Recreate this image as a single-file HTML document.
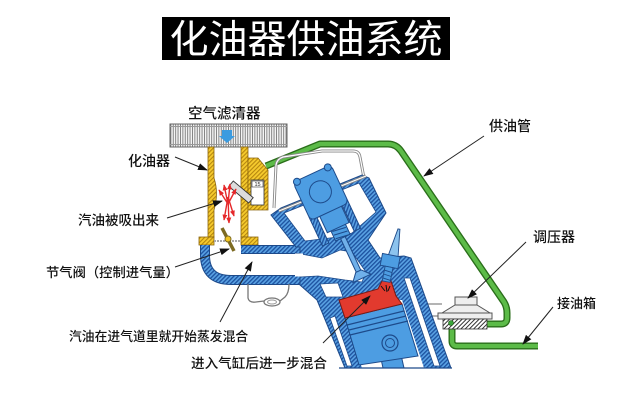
<!DOCTYPE html>
<html><head><meta charset="utf-8">
<style>
html,body{margin:0;padding:0;background:#fff;}
svg{display:block;}
text{font-family:"Liberation Sans","Noto Sans CJK SC",sans-serif;}
.lb{font-weight:500;fill:#111;}
</style></head><body>
<svg width="630" height="402" viewBox="0 0 630 402" xmlns="http://www.w3.org/2000/svg">
<defs>
<pattern id="hb" width="3" height="3" patternUnits="userSpaceOnUse" patternTransform="rotate(45)">
 <rect width="3" height="3" fill="#5aa2e3"/><rect width="1.35" height="3" fill="#1d52a0"/>
</pattern>
<pattern id="hy" width="3" height="3" patternUnits="userSpaceOnUse" patternTransform="rotate(45)">
 <rect width="3" height="3" fill="#f6cb2e"/><rect width="1.1" height="3" fill="#b5860f"/>
</pattern>
<pattern id="hk" width="3" height="3" patternUnits="userSpaceOnUse" patternTransform="rotate(45)">
 <rect width="3" height="3" fill="#fff"/><rect width="1" height="3" fill="#333"/>
</pattern>
<pattern id="filt" width="2.4" height="10" patternUnits="userSpaceOnUse">
 <rect width="2.4" height="10" fill="#f4f4f4"/><rect width="0.9" height="10" fill="#7a7a7a"/>
</pattern>
<marker id="ah" viewBox="0 0 10 10" refX="9" refY="5" markerWidth="10" markerHeight="7" markerUnits="userSpaceOnUse" orient="auto" preserveAspectRatio="none">
 <path d="M0,0 L10,5 L0,10 Z" fill="#111"/>
</marker>
<marker id="ar" viewBox="0 0 10 10" refX="9" refY="5" markerWidth="6" markerHeight="5" markerUnits="userSpaceOnUse" orient="auto" preserveAspectRatio="none">
 <path d="M0,0 L10,5 L0,10 Z" fill="#e5282a"/>
</marker>
</defs>

<rect width="630" height="402" fill="#fff"/>

<!-- Title -->
<rect x="162" y="17" width="288" height="43" fill="#000"/>
<text x="306" y="53" font-size="39" fill="#fff" text-anchor="middle">化油器供油系统</text>

<!-- Air filter -->
<rect x="170" y="124" width="117" height="23" fill="url(#filt)" stroke="#666" stroke-width="1"/>
<line x1="170" y1="126.5" x2="287" y2="126.5" stroke="#999" stroke-width="1"/>
<line x1="170" y1="144.5" x2="287" y2="144.5" stroke="#999" stroke-width="1"/>
<polygon points="222,130 232,130 232,136 235,136 227,143 219,136 222,136" fill="#3a9be0"/>

<!-- Green fuel pipe -->
<path d="M266,166 L320,144 L388,144 Q396,144 401,151 L504,302 Q507,307 507,313 L507,318 Q507,324 501,324 L486,324" fill="none" stroke="#2a6e1a" stroke-width="7" stroke-linejoin="round"/>
<path d="M266,166 L320,144 L388,144 Q396,144 401,151 L504,302 Q507,307 507,313 L507,318 Q507,324 501,324 L486,324" fill="none" stroke="#5cbb48" stroke-width="4.3" stroke-linejoin="round"/>
<path d="M452,326 L452,341 Q452,346 457,346 L538,346" fill="none" stroke="#2a6e1a" stroke-width="7"/>
<path d="M452,326 L452,341 Q452,346 457,346 L538,346" fill="none" stroke="#5cbb48" stroke-width="4.3"/>

<!-- Carburetor -->
<path d="M208,147 L214,147 L214,178 Q219,193 214,210 L214,237 L208,237 Z" fill="url(#hy)" stroke="#8a6510" stroke-width="0.8"/>
<path d="M241,147 L248,147 L248,237 L241,237 Z" fill="url(#hy)" stroke="#8a6510" stroke-width="0.8"/>
<path d="M248,158 L258,158 L268,170 L268,210 L248,210 Z" fill="url(#hy)" stroke="#8a6510" stroke-width="0.8"/>
<rect x="251" y="180" width="13" height="25" fill="#fff" stroke="#333" stroke-width="0.8"/>
<rect x="252" y="181" width="11" height="6" fill="#fff" stroke="#333" stroke-width="0.6"/>
<text x="257.5" y="186" font-size="5.5" text-anchor="middle" fill="#222">15</text>
<rect x="228" y="188.5" width="26" height="7" transform="rotate(40 241 192)" fill="#dcdcdc" stroke="#333" stroke-width="0.9"/>
<!-- red fuel arrows -->
<g stroke="#e5282a" stroke-width="1.4" fill="none">
 <line x1="228" y1="204" x2="219" y2="190" marker-end="url(#ar)"/>
 <line x1="228" y1="204" x2="224" y2="185" marker-end="url(#ar)"/>
 <line x1="228" y1="204" x2="230" y2="184" marker-end="url(#ar)"/>
 <line x1="228" y1="204" x2="236" y2="189" marker-end="url(#ar)"/>
 <line x1="228" y1="197" x2="224" y2="220" marker-end="url(#ar)"/>
 <line x1="228" y1="197" x2="229" y2="223" marker-end="url(#ar)"/>
 <line x1="228" y1="197" x2="234" y2="216" marker-end="url(#ar)"/>
</g>
<!-- flanges -->
<rect x="199" y="237" width="15" height="8" fill="url(#hy)" stroke="#8a6510" stroke-width="0.8"/>
<rect x="241" y="237" width="17" height="8" fill="url(#hy)" stroke="#8a6510" stroke-width="0.8"/>
<line x1="214" y1="241" x2="241" y2="241" stroke="#aaa" stroke-width="2" stroke-dasharray="2,1"/>

<!-- Cover (gray) -->
<path d="M274,208 L276,165 Q277,159 283,157 L322,151 L353,151 Q359,151 360,157 L364,178" fill="none" stroke="#888" stroke-width="3"/>
<path d="M274,208 L276,165 Q277,159 283,157 L322,151 L353,151 Q359,151 360,157 L364,178" fill="none" stroke="#fff" stroke-width="1.2"/>

<!-- Intake pipe -->
<path d="M205,245 L205,255 Q205,280 231,280 L303,280" fill="none" stroke="#1d4a8a" stroke-width="10"/>
<path d="M205,245 L205,255 Q205,280 231,280 L303,280" fill="none" stroke="url(#hb)" stroke-width="8"/>
<path d="M241,249.5 L302,249.5" fill="none" stroke="#1d4a8a" stroke-width="9"/>
<path d="M241,249.5 L302,249.5" fill="none" stroke="url(#hb)" stroke-width="7"/>

<!-- Wire under pipe -->
<path d="M248,284 L248,298 Q249,303 256,302 L264,301" fill="none" stroke="#777" stroke-width="1.3"/>
<ellipse cx="272" cy="302" rx="8" ry="4" fill="none" stroke="#777" stroke-width="1.3"/>
<ellipse cx="272" cy="302" rx="4.5" ry="2" fill="none" stroke="#999" stroke-width="1"/>
<path d="M280,301 L285,297 Q289,293 289,284" fill="none" stroke="#777" stroke-width="1.3"/>

<!-- Regulator bracket -->
<line x1="420" y1="304" x2="442" y2="304" stroke="#888" stroke-width="1.2"/>
<line x1="424" y1="316" x2="442" y2="316" stroke="#888" stroke-width="1.2"/>

<!-- Engine head/block -->
<polygon points="296,247 271,215 281,208 362,175 369,178 386,213 368,240 380,258 404,256 411,258 451,368 345,368 317,300 300,285 300,247" fill="url(#hb)" stroke="#1d4a8a" stroke-width="1"/>
<!-- housing interior -->
<polygon points="284,213 359,183 376,212 352,233 338,237 305,241" fill="#fff" stroke="#1d4a8a" stroke-width="0.8"/>
<!-- gray bar -->
<line x1="279" y1="211" x2="366" y2="176" stroke="#888" stroke-width="3"/>
<line x1="279" y1="211" x2="366" y2="176" stroke="#fff" stroke-width="1.1"/>
<!-- intake port -->
<polygon points="296,253 322,258 340,250 352,252 366,272 362,282 345,280 318,276 300,277" fill="#fff" stroke="#1d4a8a" stroke-width="0.8"/>
<rect x="295" y="253.5" width="8" height="23" fill="#fff"/>
<polygon points="320,284 338,283 343,297 326,297" fill="#fff" stroke="#1d4a8a" stroke-width="0.8"/>
<!-- slots -->
<polygon points="330,318 335,316 352,366 347,366" fill="#fff" stroke="#1d4a8a" stroke-width="0.8"/>
<polygon points="404,278 410,278 440,366 434,366" fill="#fff" stroke="#1d4a8a" stroke-width="0.8"/>
<!-- bore -->
<polygon points="339,300 402,300 424,368 362,368" fill="#fff"/>
<!-- rod -->
<polygon points="379,350 399,346 404,368 383,368" fill="#4d9de2" stroke="#1d4a8a" stroke-width="1"/>
<!-- piston -->
<polygon points="345,318 402,304 418,356 359,365" fill="#4d9de2" stroke="#1d4a8a" stroke-width="1"/>
<g stroke="#1d4a8a" stroke-width="1.2">
 <line x1="347" y1="325" x2="404" y2="311"/>
 <line x1="349" y1="330" x2="406" y2="316"/>
 <line x1="350" y1="335" x2="408" y2="321"/>
</g>
<circle cx="390" cy="343" r="8" fill="#4d9de2" stroke="#1d4a8a" stroke-width="1.2"/>
<circle cx="390" cy="343" r="4.5" fill="none" stroke="#1d4a8a" stroke-width="1"/>
<!-- red chamber -->
<polygon points="339,300 378,289 383,279 391,281 396,296 402,304 345,318" fill="#e23a2e" stroke="#7a1a14" stroke-width="1"/>
<line x1="339" y1="368" x2="452" y2="368" stroke="#1d4a8a" stroke-width="1.2"/>

<!-- Rocker / valve assembly -->
<g transform="translate(323,195) rotate(-25)" stroke="#1d4a8a" stroke-width="1">
 <rect x="-22" y="14" width="7" height="32" fill="url(#hb)"/>
 <rect x="13" y="14" width="7" height="32" fill="url(#hb)"/>
 <rect x="-2.5" y="44" width="5" height="44" fill="#6fb0ea"/>
 <polygon points="-3,84 3,84 10,92 -10,92" fill="#6fb0ea"/>
 <rect x="-8" y="34" width="16" height="13" fill="#4d9de2"/>
 <path d="M-7,37 L7,39 M-7,41 L7,43 M-7,45 L7,47" stroke="#1d4a8a" fill="none"/>
 <rect x="-12" y="14" width="24" height="22" fill="#4d9de2"/>
 <rect x="-22" y="-24" width="42" height="42" rx="5" fill="#4d9de2"/>
 <circle cx="-1" cy="-4" r="11" fill="#4d9de2"/>
 <circle cx="-18" cy="-23" r="3.5" fill="#4d9de2"/>
 <circle cx="16" cy="-23" r="3.5" fill="#4d9de2"/>
</g>

<!-- Spark plug -->
<g transform="rotate(11 390 262)" stroke="#1d4a8a" stroke-width="0.9">
 <polygon points="387,256 391.5,228 393.5,228 397,256" fill="#8cc3ee"/>
 <rect x="381" y="255" width="18" height="12" fill="#4d9de2"/>
 <rect x="386" y="267" width="8" height="15" fill="#4d9de2"/>
 <path d="M386,271 L394,272 M386,275 L394,276 M386,279 L394,280" fill="none"/>
</g>
<path d="M381,286 L385,291 M386,285 L387,292 M390,286 L388,291" stroke="#111" stroke-width="1"/>

<!-- Regulator -->
<rect x="455" y="297" width="22" height="8" fill="#eee" stroke="#555" stroke-width="1"/>
<polygon points="455,305 477,305 490,313 442,313" fill="#eee" stroke="#555" stroke-width="1"/>
<rect x="438" y="313" width="54" height="6" fill="#eee" stroke="#555" stroke-width="1"/>
<rect x="443" y="319" width="44" height="10" fill="url(#hk)" stroke="#333" stroke-width="0.8"/>
<circle cx="451" cy="323" r="2.5" fill="#3aa53a" stroke="#1d5a14" stroke-width="0.6"/>

<!-- Throttle plate -->
<line x1="222" y1="228" x2="234" y2="251" stroke="#7d6b22" stroke-width="3.5"/>
<circle cx="228" cy="239" r="3" fill="#f2c521" stroke="#7d6b22" stroke-width="1"/>

<!-- Leader arrows -->
<g stroke="#222" stroke-width="1" fill="none">
 <line x1="175" y1="157" x2="207" y2="170" marker-end="url(#ah)"/>
 <line x1="167" y1="218" x2="222" y2="201" marker-end="url(#ah)"/>
 <line x1="175" y1="267" x2="229" y2="249" marker-end="url(#ah)"/>
 <line x1="220" y1="322" x2="252" y2="262" marker-end="url(#ah)"/>
 <line x1="323" y1="343" x2="370" y2="296" marker-end="url(#ah)"/>
 <line x1="484" y1="136" x2="424" y2="176" marker-end="url(#ah)"/>
 <line x1="526" y1="242" x2="468" y2="298" marker-end="url(#ah)"/>
 <line x1="553" y1="307" x2="523" y2="344" marker-end="url(#ah)"/>
</g>

<!-- Labels -->
<text class="lb" x="188" y="118.5" font-size="14.5">空气滤清器</text>
<text class="lb" x="128" y="166" font-size="14">化油器</text>
<text class="lb" x="78" y="225" font-size="13.5">汽油被吸出来</text>
<text class="lb" x="46" y="277" font-size="13.3">节气阀（控制进气量）</text>
<text class="lb" x="69" y="341" font-size="12.8">汽油在进气道里就开始蒸发混合</text>
<text class="lb" x="191" y="368" font-size="13.6">进入气缸后进一步混合</text>
<text class="lb" x="489" y="131" font-size="14">供油管</text>
<text class="lb" x="533" y="242" font-size="14">调压器</text>
<text class="lb" x="557" y="308" font-size="13">接油箱</text>
</svg>
</body></html>
